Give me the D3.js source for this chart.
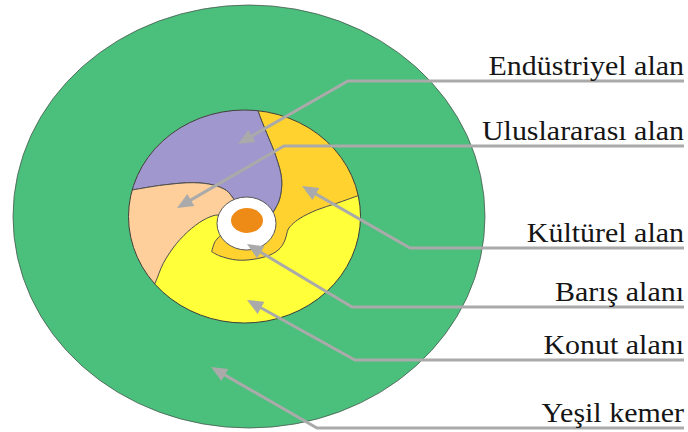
<!DOCTYPE html>
<html>
<head>
<meta charset="utf-8">
<script src="https://cdn.jsdelivr.net/npm/d3@7"></script>
<style>
  body { margin: 0; background: #fff; }
  svg { display: block; }
</style>
</head>
<body>
<svg id="chart"></svg>
<script>
// Zones of the plan, top label to bottom label
const zoneNames = ['Endüstriyel alan', 'Uluslararası alan', 'Kültürel alan', 'Barış alanı', 'Konut alanı', 'Yeşil kemer'];
const zoneColors = ['#9f97cd', '#ffcf9b', '#ffd22f', '#ffffff', '#ffff3a', '#4bbf7c'];
const coreColor = '#ee8a16';

// leader lines (plan units): underline height, elbow, arrow tip
const rowY = [81, 146, 248, 307, 360, 428];
const elbowX = [348, 284, 410, 352, 355, 317];
const tipX = [238, 177, 302, 247, 247, 211];
const tipY = [144, 208, 186, 244, 300, 367];

// rings: green belt, city zone, peace ring, core  [cx, cy, rx, ry]
const greenBelt = [249, 216.5, 236, 211.5];
const cityZone = [244.5, 216.5, 116, 106.5];
const peaceRing = [246.5, 223.5, 29.5, 26.5];
const core = [247, 220.5, 16, 12.5];

// borders between the zones inside the city ring
const purpleGold = [[255, 98], [258.3, 111.7], [266.7, 133.3], [276, 156.7], [281.7, 180], [279.3, 200], [272, 214]];
const purplePeach = [[118, 192], [131.7, 190], [163.3, 185], [193.3, 182.7], [213.3, 185], [226.7, 190.7], [233, 198], [238, 205]];
const goldYellow = [[372, 191], [360, 195], [336.7, 203.3], [316.7, 210], [300, 218.3], [292, 224.5], [288.3, 229], [286.7, 234], [285, 240], [280, 248.3], [270, 255], [253.3, 259.3], [236.7, 260], [220, 256], [211.7, 251.7]];
const goldTip = [[211.7, 251.7], [215, 241.7], [222, 234]];
const peachYellow = [[145, 302], [155, 283.3], [163.3, 263.3], [176.7, 243.3], [191.7, 228.3], [206.7, 218.3], [218.3, 215], [225, 218]];

const width = 688, height = 432;
const x = d3.scaleLinear().domain([0, 688]).range([0, width]);
const y = d3.scaleLinear().domain([0, 432]).range([0, height]);

const svg = d3.select('#chart').attr('width', width).attr('height', height);

const curved = d3.line().x(d => x(d[0])).y(d => y(d[1])).curve(d3.curveCatmullRom.alpha(0.5));
const straight = d3.line().x(d => x(d[0])).y(d => y(d[1]));

// join several boundary pieces into one closed outline
function outline(pieces) {
  return pieces.map((p, i) => {
    const s = (p.curve ? curved : straight)(p.pts);
    return i ? s.replace(/^M/, 'L') : s;
  }).join('') + 'Z';
}
const rev = a => a.slice().reverse();

function ellipse(g, e) {
  return g.append('ellipse')
    .attr('cx', x(e[0])).attr('cy', y(e[1]))
    .attr('rx', x(e[2]) - x(0)).attr('ry', y(e[3]) - y(0));
}

// green belt
ellipse(svg, greenBelt).attr('fill', zoneColors[5]).attr('stroke', '#4a5a50').attr('stroke-width', 0.8);

// city zone, housing as the base colour
svg.append('defs').append('clipPath').attr('id', 'zone-clip')
  .call(g => ellipse(g, cityZone));
ellipse(svg, cityZone).attr('fill', zoneColors[4]);

const zones = svg.append('g').attr('clip-path', 'url(#zone-clip)')
  .attr('stroke', '#4d4d4d').attr('stroke-width', 1).attr('stroke-linejoin', 'round');

zones.append('path').attr('fill', zoneColors[2]).attr('d', outline([
  { pts: [[255, 98], [380, 98], [380, 191]] },
  { pts: goldYellow, curve: true },
  { pts: goldTip, curve: true },
  { pts: [[222, 234], [247, 223], [272, 214]] },
  { pts: rev(purpleGold), curve: true }
]));

zones.append('path').attr('fill', zoneColors[0]).attr('d', outline([
  { pts: purplePeach, curve: true },
  { pts: [[238, 205], [272, 214]] },
  { pts: rev(purpleGold), curve: true },
  { pts: [[255, 98], [118, 98]] }
]));

zones.append('path').attr('fill', zoneColors[1]).attr('d', outline([
  { pts: peachYellow, curve: true },
  { pts: [[225, 218], [238, 205]] },
  { pts: rev(purplePeach), curve: true },
  { pts: [[118, 192], [108, 192], [108, 302]] }
]));

ellipse(svg, cityZone).attr('fill', 'none').attr('stroke', '#3d3d3d').attr('stroke-width', 1);

// peace ring and centre
ellipse(svg, peaceRing).attr('fill', zoneColors[3]).attr('stroke', '#555').attr('stroke-width', 1);
ellipse(svg, core).attr('fill', coreColor);

// leader lines with arrows
const leaders = svg.append('g');
zoneNames.forEach((name, i) => {
  const ex = x(elbowX[i]), ey = y(rowY[i]);
  const tx = x(tipX[i]), ty = y(tipY[i]);
  const len = Math.hypot(tx - ex, ty - ey);
  const ux = (tx - ex) / len, uy = (ty - ey) / len;
  const head = 16, half = 7;
  const bx = tx - ux * head, by = ty - uy * head;

  leaders.append('path')
    .attr('d', `M${x(684)},${ey}L${ex},${ey}L${tx - ux * head * 0.7},${ty - uy * head * 0.7}`)
    .attr('fill', 'none').attr('stroke', '#aaaaaa').attr('stroke-width', 3);

  leaders.append('path')
    .attr('d', `M${tx},${ty}L${bx - uy * half},${by + ux * half}L${bx + uy * half},${by - ux * half}Z`)
    .attr('fill', '#aaaaaa');

  // the source lettering is a little wider than the face
  svg.append('text')
    .attr('transform', `translate(${x(684)},${ey - 6}) scale(1.07,1)`)
    .attr('text-anchor', 'end')
    .style('font-family', "'Liberation Serif'")
    .style('font-size', '28px')
    .attr('fill', '#151515')
    .text(name);
});
</script>
</body>
</html>
